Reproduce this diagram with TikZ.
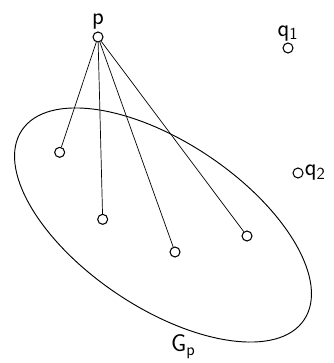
\documentclass[tikz,border=0pt]{standalone}
\usetikzlibrary{positioning}
\tikzset{
  vertex/.style={
    draw=black,
    circle,
    fill=white,
    line width=0.9pt,
    minimum size=0.3cm,
    inner sep=0pt
  },
  edge/.style={draw=black, line width=0.6pt},
  region/.style={draw=black, line width=0.8pt},
  lbl/.style={font=\sffamily\huge, inner sep=1pt}
}
\begin{document}
\begin{tikzpicture}
  \path[use as bounding box] (0,0) rectangle (9.99,-10.89);

  % the region G_p
  \draw[region, rotate around={-33.9:(4.89,-6.75)}] (4.89,-6.75) ellipse (5.1cm and 2.48cm);
  \node[lbl, anchor=base] (gp) at (5.5,-10.55) {G\textsubscript{p}};

  % vertices
  \node[vertex] (p) at (2.94,-1.11) {};
  \node[lbl, above=0.02cm of p] (plbl) {p};

  \node[vertex] (q1) at (8.64,-1.44) {};
  \node[lbl, above=0cm of q1] (q1lbl) {q\textsubscript{1}};

  \node[vertex] (q2) at (8.94,-5.19) {};
  \node[lbl, right=0cm of q2] (q2lbl) {q\textsubscript{2}};

  \node[vertex] (g1) at (1.79,-4.57) {};
  \node[vertex] (g2) at (3.08,-6.58) {};
  \node[vertex] (g3) at (5.25,-7.56) {};
  \node[vertex] (g4) at (7.41,-7.08) {};

  % edges from p into G_p
  \foreach \v in {g1,g2,g3,g4}
    \draw[edge] (p) -- (\v);
\end{tikzpicture}
\end{document}
